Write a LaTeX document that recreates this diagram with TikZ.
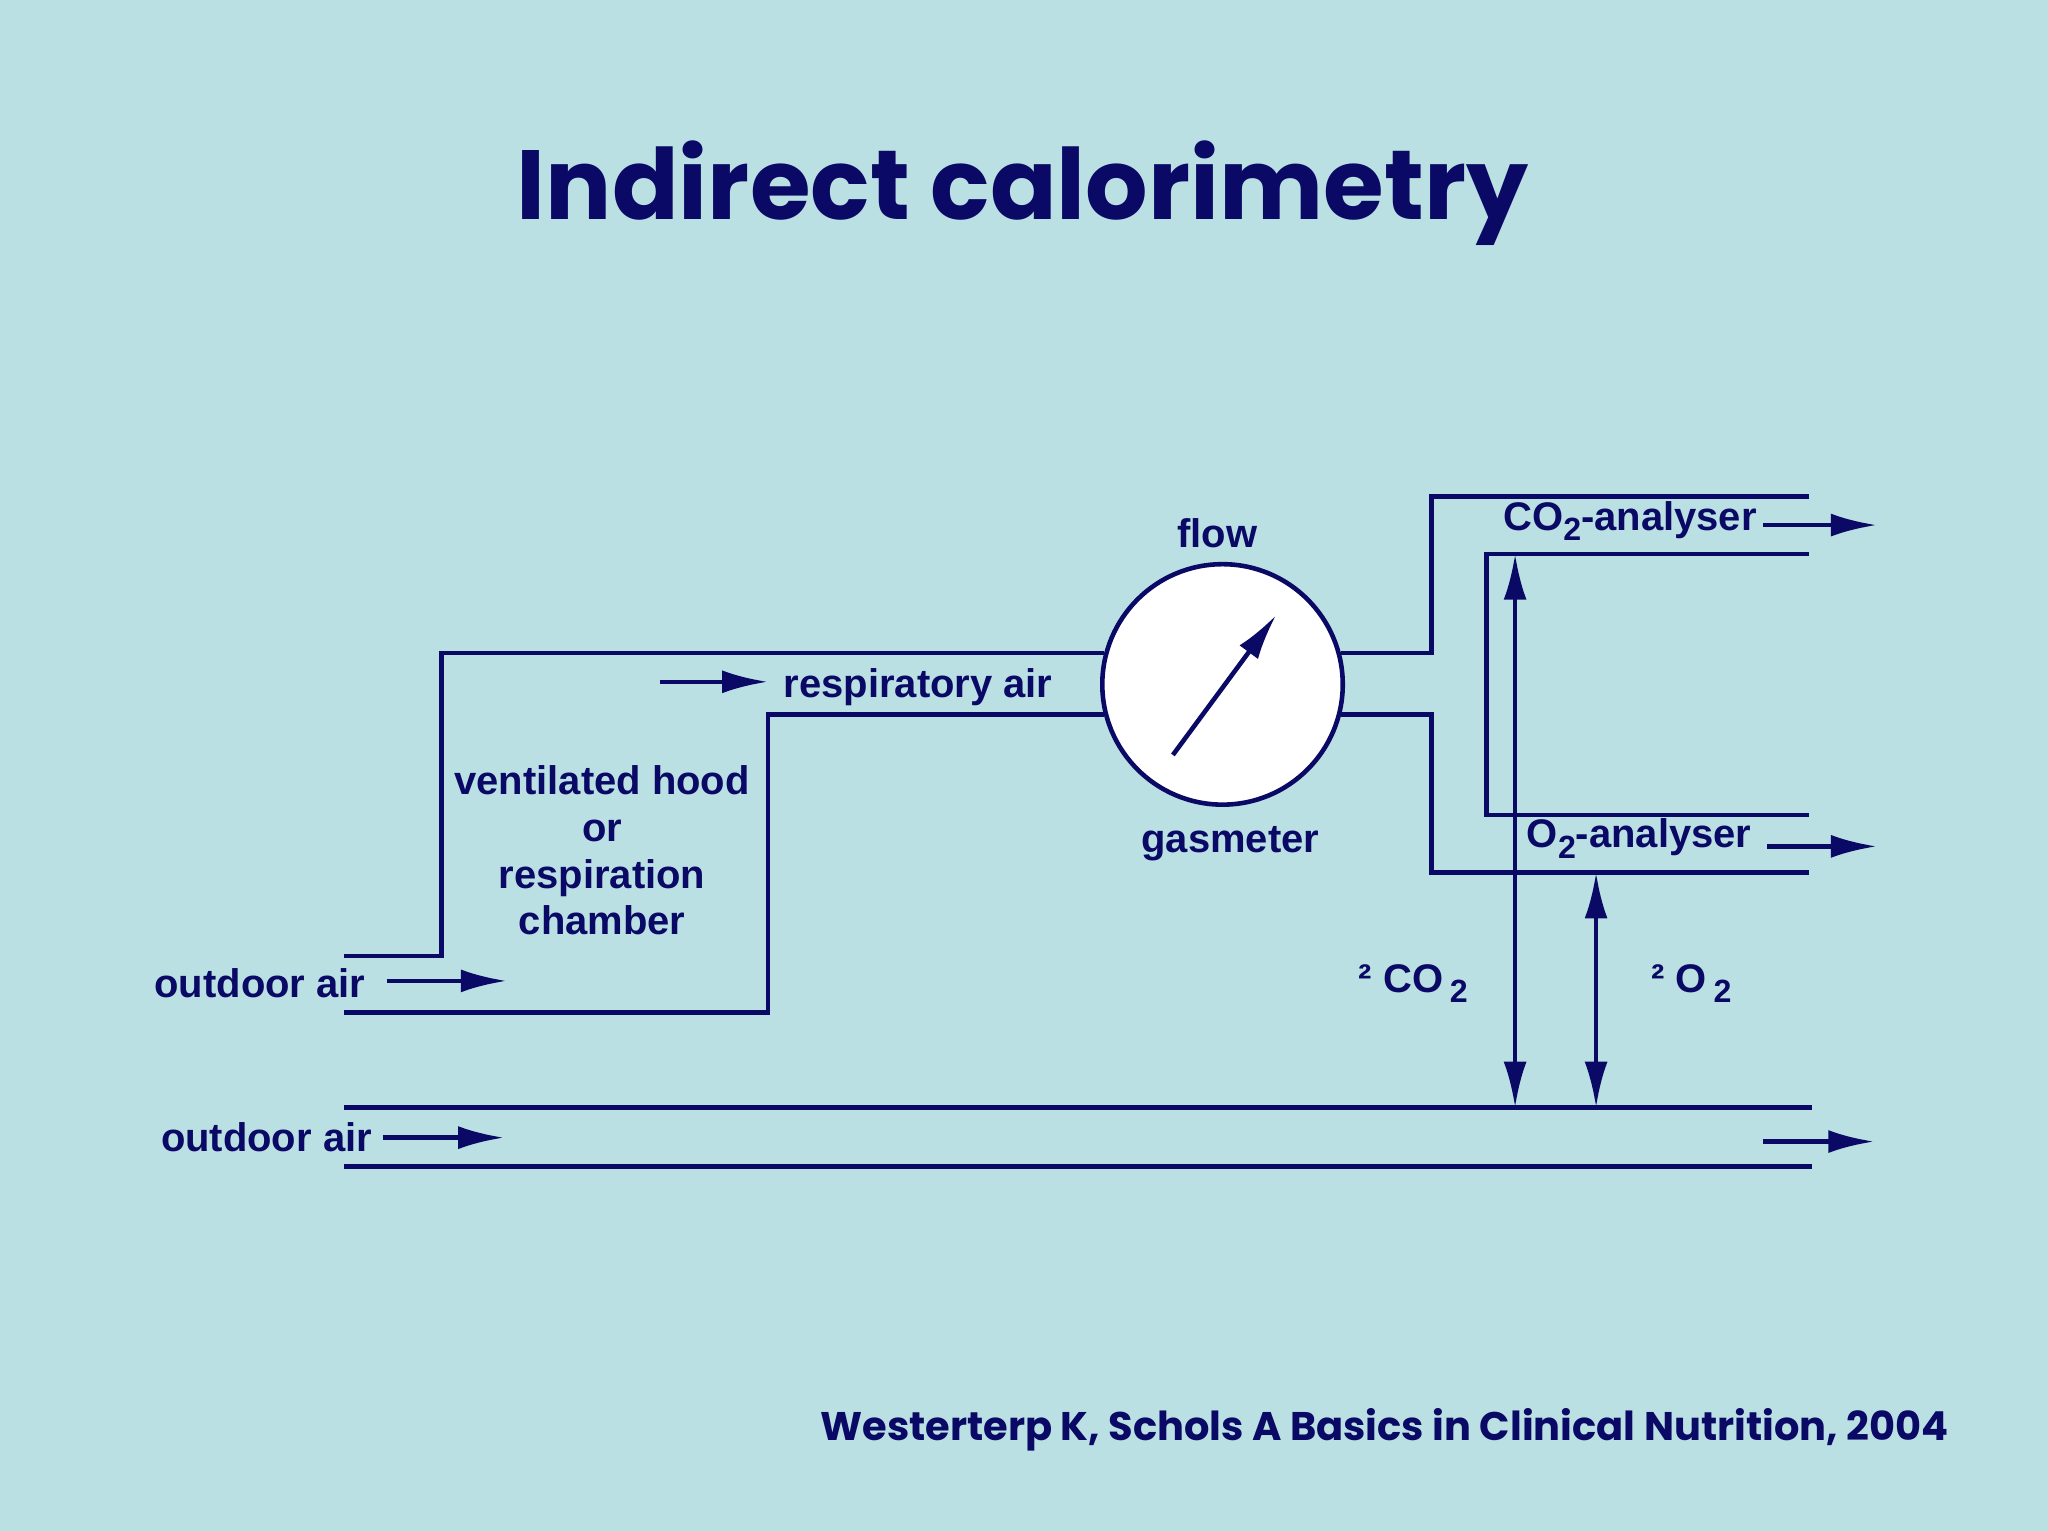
\documentclass[tikz,border=0pt]{standalone}
\usepackage{fontspec}
\setmainfont{Liberation Sans}
\newfontfamily\titlefont{Poppins}
\usetikzlibrary{arrows.meta}
\definecolor{bg}{HTML}{BBE0E3}
\definecolor{navy}{HTML}{0A0A66}
\begin{document}
\begin{tikzpicture}[x=0.01cm,y=-0.01cm,
  pipe/.style={draw=navy,line width=1.0pt},
  flowarr/.style={draw=navy,line width=1.0pt,-{Latex[length=10pt,width=5pt]}},
  dbl/.style={draw=navy,line width=1.0pt,{Latex[length=10pt,width=5pt]}-{Latex[length=10pt,width=5pt]}},
  lbl/.style={text=navy,font=\fontsize{8.7}{10.2}\selectfont\bfseries,inner sep=0pt,align=center}]
\fill[bg] (0,0) rectangle (1568,1172);
\useasboundingbox (0,0) rectangle (1568,1172);
\node[text=navy,font=\titlefont\fontsize{21.4}{25}\selectfont\bfseries] (title) at (783,148) {Indirect calorimetry};
\node[text=navy,font=\titlefont\fontsize{8.7}{10}\selectfont\bfseries] (cite) at (1060,1095) {Westerterp K, Schols A Basics in Clinical Nutrition, 2004};
% hood
\draw[pipe] (263,732) -- (338,732) -- (338,500) -- (845,500);
\draw[pipe] (263,775) -- (588,775) -- (588,547) -- (845,547);
\node[draw=navy,fill=white,line width=1.0pt,circle,minimum size=1.84cm] (gm) at (936,524) {};
\coordinate (n1) at (898,578); \coordinate (n2) at (977,471);
\draw[flowarr] (n1) -- (n2);
\draw[pipe] (1027,500) -- (1096,500) -- (1096,380) -- (1385,380);
\draw[pipe] (1027,547) -- (1096,547) -- (1096,668) -- (1385,668);
\draw[pipe] (1385,424) -- (1138,424) -- (1138,624) -- (1385,624);
\draw[pipe] (263,848) -- (1387,848);
\draw[pipe] (263,893) -- (1387,893);
% arrows
\coordinate (a1) at (505,522); \coordinate (a2) at (588,522);
\draw[flowarr] (a1) -- (a2);
\coordinate (b1) at (296,751); \coordinate (b2) at (388,751);
\draw[flowarr] (b1) -- (b2);
\coordinate (c1) at (293,871); \coordinate (c2) at (386,871);
\draw[flowarr] (c1) -- (c2);
\coordinate (d1) at (1350,874); \coordinate (d2) at (1435,874);
\draw[flowarr] (d1) -- (d2);
\coordinate (e1) at (1350,402); \coordinate (e2) at (1437,402);
\draw[flowarr] (e1) -- (e2);
\coordinate (f1) at (1353,648); \coordinate (f2) at (1437,648);
\draw[flowarr] (f1) -- (f2);
\coordinate (g1) at (1160,424); \coordinate (g2) at (1160,848);
\draw[dbl] (g1) -- (g2);
\coordinate (h1) at (1222,668); \coordinate (h2) at (1222,848);
\draw[dbl] (h1) -- (h2);
% labels
\node[lbl] (flow) at (932,408) {flow};
\node[lbl] (gasm) at (942,646) {gasmeter};
\node[lbl] (resp) at (703,526) {respiratory air};
\node[lbl,font=\fontsize{8.7}{10.2}\selectfont\bfseries] (hood) at (461,651) {ventilated hood\\or\\respiration\\chamber};
\node[lbl] (out1) at (199,753) {outdoor air};
\node[lbl] (out2) at (204,871) {outdoor air};
\node[lbl] (dco) at (1082,753) {² CO\,\raisebox{-0.5ex}{\fontsize{7}{7}\selectfont 2}};
\node[lbl] (do) at (1295,753) {² O\,\raisebox{-0.5ex}{\fontsize{7}{7}\selectfont 2}};
\node[lbl] (coan) at (1248,399) {CO\raisebox{-0.5ex}{\fontsize{7}{7}\selectfont 2}-analyser};
\node[lbl] (oan) at (1255,642) {O\raisebox{-0.5ex}{\fontsize{7}{7}\selectfont 2}-analyser};
\end{tikzpicture}
\end{document}
